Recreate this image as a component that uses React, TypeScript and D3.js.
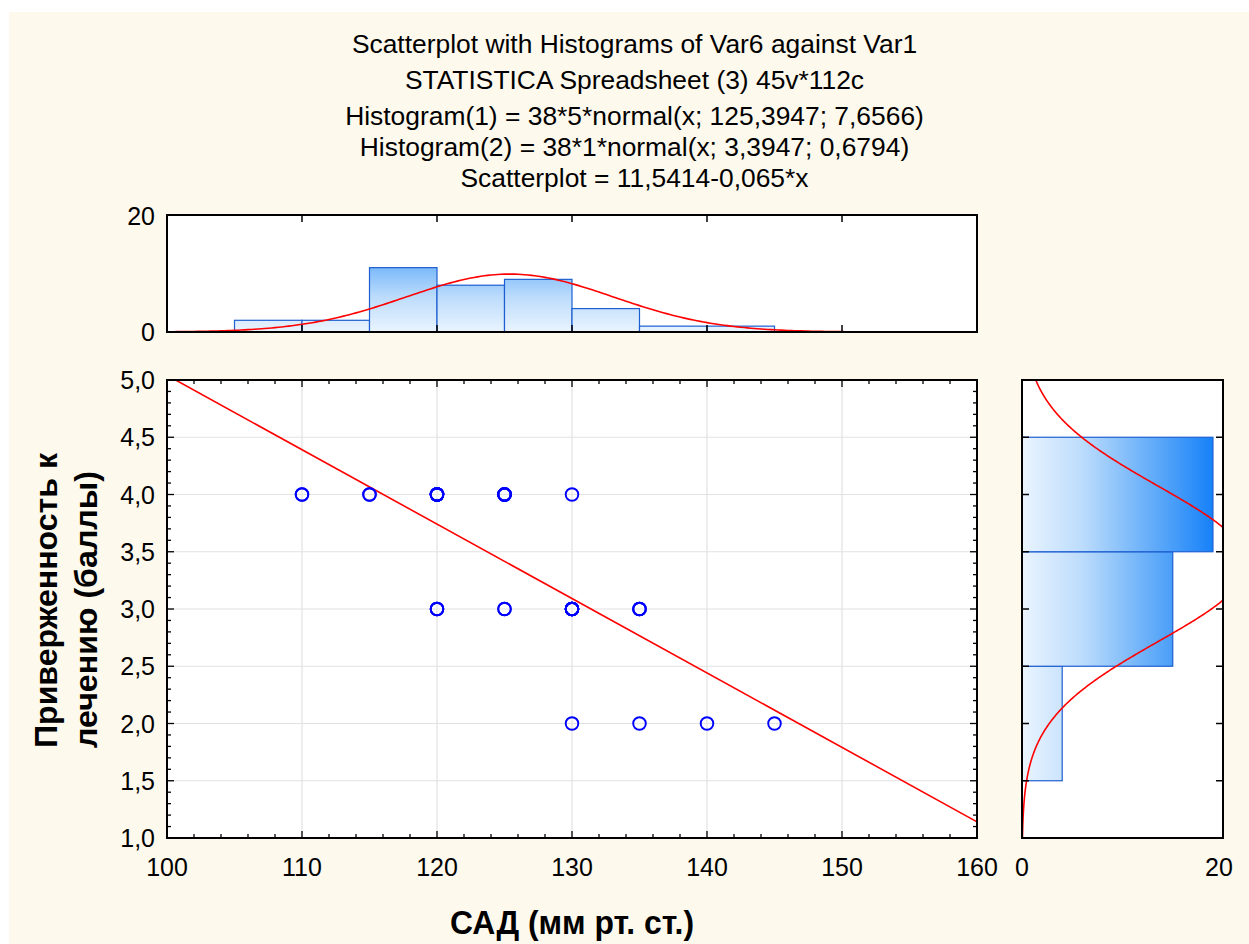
import React from "react";
import * as d3 from "d3";

// Per-case values: САД (x) and adherence score (y), 38 valid cases
const sadValues = [
  110, 110, 115, 115,
  120, 120, 120, 120, 120, 120, 120, 120, 120, 120, 120,
  125, 125, 125, 125, 125, 125, 125, 125,
  130, 130, 130, 130, 130, 130, 130, 130, 130,
  135, 135, 135, 135,
  140, 145,
];
const adherenceValues = [
  4, 4, 4, 4,
  4, 4, 4, 4, 4, 4, 4, 4, 3, 3, 3,
  4, 4, 4, 4, 4, 4, 3, 3,
  4, 3, 3, 3, 3, 3, 3, 3, 2,
  3, 3, 3, 2,
  2, 2,
];

// Histogram bins of САД (upper-inclusive, width 5) and counts
const sadBinEdges = [105, 110, 115, 120, 125, 130, 135, 140, 145];
const sadCounts = [2, 2, 11, 8, 9, 4, 1, 1];

// Histogram bins of adherence (width 1) and counts
const adhBinEdges = [1.5, 2.5, 3.5, 4.5];
const adhCounts = [4, 15, 19];

// Fitted normal curves and regression line
const N = 38;
const sadMean = 125.3947, sadSd = 7.6566, sadBinW = 5;
const adhMean = 3.3947, adhSd = 0.6794, adhBinW = 1;
const regIntercept = 11.5414, regSlope = -0.065;

const titleLines = [
  "Scatterplot with Histograms of Var6 against Var1",
  "STATISTICA Spreadsheet (3) 45v*112c",
  "Histogram(1) = 38*5*normal(x; 125,3947; 7,6566)",
  "Histogram(2) = 38*1*normal(x; 3,3947; 0,6794)",
  "Scatterplot = 11,5414-0,065*x",
];
const titleBaselines = [53, 89, 125, 156, 187];
const xTicks = [100, 110, 120, 130, 140, 150, 160];
const yTicks = [1, 1.5, 2, 2.5, 3, 3.5, 4, 4.5, 5];
const xLabel = "САД (мм рт. ст.)";
const yLabelLines = ["Приверженность к", "лечению (баллы)"];

const FONT = "'Liberation Sans', Arial, sans-serif";

const normal = (v: number, m: number, s: number) =>
  Math.exp(-0.5 * ((v - m) / s) ** 2) / (s * Math.sqrt(2 * Math.PI));

const fmt1 = (v: number) => d3.format(".1f")(v).replace(".", ",");

export default function App() {
  const W = 1249, H = 944;
  const x = d3.scaleLinear().domain([100, 160]).range([167, 977]);
  const y = d3.scaleLinear().domain([1, 5]).range([838, 380]);
  const hTop = d3.scaleLinear().domain([0, 20]).range([332, 215]);
  const hRight = d3.scaleLinear().domain([0, 20]).range([1022, 1223]);

  const [mx0, mx1] = x.range();
  const [my1, my0] = y.range();
  const [tx0, tx1] = [mx0, mx1];
  const [ty1, ty0] = hTop.range();
  const [rx0, rx1] = hRight.range();

  const topCurvePts = d3.range(100, 160.01, 0.25).map((v) => [x(v), hTop(N * sadBinW * normal(v, sadMean, sadSd))] as [number, number]);
  const rightCurvePts = d3.range(1, 5.001, 0.01).map((v) => [hRight(N * adhBinW * normal(v, adhMean, adhSd)), y(v)] as [number, number]);
  const line = d3.line();

  const xMinor = d3.range(100, 160.01, 2);
  const yMinor = d3.range(1, 5.001, 0.1);

  const tickStroke = "#000";
  const majorLen = 7, minorLen = 4;

  return (
    <svg width={W} height={H} style={{ position: "absolute", left: 0, top: 0, display: "block" }} fontFamily={FONT}>
      <defs>
        <linearGradient id="gTop" gradientUnits="userSpaceOnUse" x1={0} y1={hTop(0)} x2={0} y2={hTop(20)}>
          <stop offset="0" stopColor="#eaf4fe" />
          <stop offset="0.3" stopColor="#bcdcfc" />
          <stop offset="0.6" stopColor="#6fb3f9" />
          <stop offset="1" stopColor="#0a7af8" />
        </linearGradient>
        <linearGradient id="gRight" gradientUnits="userSpaceOnUse" x1={hRight(0)} y1={0} x2={hRight(20)} y2={0}>
          <stop offset="0" stopColor="#eaf4fe" />
          <stop offset="0.3" stopColor="#bcdcfc" />
          <stop offset="0.6" stopColor="#6fb3f9" />
          <stop offset="1" stopColor="#0a7af8" />
        </linearGradient>
        <clipPath id="cTop"><rect x={tx0} y={ty0} width={tx1 - tx0} height={ty1 - ty0} /></clipPath>
        <clipPath id="cMain"><rect x={mx0} y={my0} width={mx1 - mx0} height={my1 - my0} /></clipPath>
        <clipPath id="cRight"><rect x={rx0} y={my0} width={rx1 - rx0} height={my1 - my0} /></clipPath>
      </defs>

      <rect x={0} y={0} width={W} height={H} fill="#ffffff" />
      <rect x={9} y={12} width={W - 9} height={H - 12} fill="#fef9ed" />

      {/* Title block */}
      <g textAnchor="middle" fontSize={26.4} fill="#000">
        {titleLines.map((t, i) => (
          <text key={i} x={634.5} y={titleBaselines[i]}>{t}</text>
        ))}
      </g>

      {/* Top histogram: САД */}
      <rect x={tx0} y={ty0} width={tx1 - tx0} height={ty1 - ty0} fill="#fff" />
      <g clipPath="url(#cTop)">
        {sadCounts.map((c, i) => (
          <rect key={i} x={x(sadBinEdges[i])} y={hTop(c)} width={x(sadBinEdges[i + 1]) - x(sadBinEdges[i])} height={hTop(0) - hTop(c)}
            fill="url(#gTop)" stroke="#1d5fd0" strokeWidth={1.2} />
        ))}
        <path d={line(topCurvePts) ?? ""} fill="none" stroke="#ff0000" strokeWidth={1.6} />
      </g>
      {xTicks.slice(1, -1).map((v) => (
        <g key={v} stroke={tickStroke} strokeWidth={1.5}>
          <line x1={x(v)} x2={x(v)} y1={ty0} y2={ty0 + majorLen} />
          <line x1={x(v)} x2={x(v)} y1={ty1} y2={ty1 - majorLen} />
        </g>
      ))}
      <rect x={tx0} y={ty0} width={tx1 - tx0} height={ty1 - ty0} fill="none" stroke="#000" strokeWidth={2} />
      <g fontSize={25} textAnchor="end" fill="#000">
        <text x={155} y={hTop(20) + 10}>20</text>
        <text x={155} y={hTop(0) + 9}>0</text>
      </g>

      {/* Main scatterplot */}
      <rect x={mx0} y={my0} width={mx1 - mx0} height={my1 - my0} fill="#fff" />
      <g stroke="#e2e2e2" strokeWidth={1.2}>
        {xTicks.slice(1, -1).map((v) => <line key={"gx" + v} x1={x(v)} x2={x(v)} y1={my0} y2={my1} />)}
        {yTicks.slice(1, -1).map((v) => <line key={"gy" + v} x1={mx0} x2={mx1} y1={y(v)} y2={y(v)} />)}
      </g>
      <g stroke={tickStroke} strokeWidth={1.3}>
        {xMinor.map((v, i) => {
          const len = i % 5 === 0 ? majorLen : minorLen;
          return (
            <g key={"xm" + i}>
              <line x1={x(v)} x2={x(v)} y1={my1} y2={my1 - len} />
              <line x1={x(v)} x2={x(v)} y1={my0} y2={my0 + len} />
            </g>
          );
        })}
        {yMinor.map((v, i) => {
          const len = i % 5 === 0 ? majorLen : minorLen;
          return (
            <g key={"ym" + i}>
              <line x1={mx0} x2={mx0 + len} y1={y(v)} y2={y(v)} />
              <line x1={mx1} x2={mx1 - len} y1={y(v)} y2={y(v)} />
            </g>
          );
        })}
      </g>
      <g clipPath="url(#cMain)">
        <line x1={x(100)} y1={y(regIntercept + regSlope * 100)} x2={x(160)} y2={y(regIntercept + regSlope * 160)}
          stroke="#ff0000" strokeWidth={1.6} />
        {sadValues.map((v, i) => (
          <circle key={i} cx={x(v)} cy={y(adherenceValues[i])} r={6.3} fill="none" stroke="#0000ff" strokeWidth={1.9} />
        ))}
      </g>
      <rect x={mx0} y={my0} width={mx1 - mx0} height={my1 - my0} fill="none" stroke="#000" strokeWidth={2} />
      <g fontSize={25} fill="#000">
        {yTicks.map((v) => (
          <text key={"yl" + v} x={155} y={y(v) + 9} textAnchor="end">{fmt1(v)}</text>
        ))}
        {xTicks.map((v) => (
          <text key={"xl" + v} x={x(v)} y={876} textAnchor="middle">{v}</text>
        ))}
      </g>

      {/* Right histogram: adherence */}
      <rect x={rx0} y={my0} width={rx1 - rx0} height={my1 - my0} fill="#fff" />
      <g clipPath="url(#cRight)">
        {adhCounts.map((c, i) => (
          <rect key={i} x={hRight(0)} y={y(adhBinEdges[i + 1])} width={hRight(c) - hRight(0)} height={y(adhBinEdges[i]) - y(adhBinEdges[i + 1])}
            fill="url(#gRight)" stroke="#1d5fd0" strokeWidth={1.2} />
        ))}
        <path d={line(rightCurvePts) ?? ""} fill="none" stroke="#ff0000" strokeWidth={1.6} />
      </g>
      <g stroke={tickStroke} strokeWidth={1.5}>
        {yTicks.slice(1, -1).map((v) => (
          <g key={"rt" + v}>
            <line x1={rx0} x2={rx0 + majorLen} y1={y(v)} y2={y(v)} />
            <line x1={rx1} x2={rx1 - majorLen} y1={y(v)} y2={y(v)} />
          </g>
        ))}
      </g>
      <rect x={rx0} y={my0} width={rx1 - rx0} height={my1 - my0} fill="none" stroke="#000" strokeWidth={2} />
      <g fontSize={25} fill="#000" textAnchor="middle">
        <text x={hRight(0)} y={876}>0</text>
        <text x={hRight(20) - 4} y={876}>20</text>
      </g>

      {/* Axis titles */}
      <text x={572} y={934} textAnchor="middle" fontSize={34} fontWeight="bold" fill="#000"
        textLength={244} lengthAdjust="spacingAndGlyphs">{xLabel}</text>
      <g fontSize={32} fontWeight="bold" fill="#000" textAnchor="start">
        <text transform="translate(57,748) rotate(-90)" textLength={295} lengthAdjust="spacingAndGlyphs">{yLabelLines[0]}</text>
        <text transform="translate(97,748) rotate(-90)" textLength={277} lengthAdjust="spacingAndGlyphs">{yLabelLines[1]}</text>
      </g>
    </svg>
  );
}
